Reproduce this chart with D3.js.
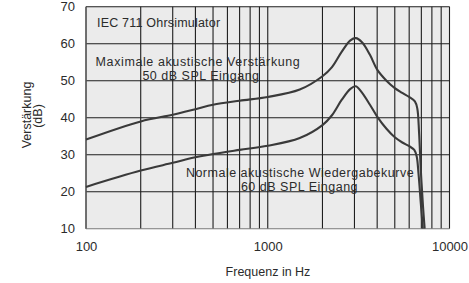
<!DOCTYPE html>
<html><head><meta charset="utf-8">
<script src="https://cdn.jsdelivr.net/npm/d3@7"></script>
<style>
html,body{margin:0;padding:0;background:#fff;}
text{font-family:"Liberation Sans",Arial,Helvetica,sans-serif;fill:#2b2b2b;}
</style></head>
<body><svg id="c" width="469" height="283"></svg>
<script>
// Data
const freqTicks = [100, 1000, 10000];
const gainTicks = [10, 20, 30, 40, 50, 60, 70];
const maxFreq = [100,200,300,400,500,700,1000,1500,2000,2250,2550,2850,3050,3300,3650,4000,4500,5000,5500,6000,6450,6650,6800,6950,7150,7300];
const maxGain = [34.1,39,40.8,42.3,43.5,44.6,45.6,47.6,51.2,53.6,57.8,60.9,61.5,60.4,57,53,50,48,46.7,45.6,44.4,42.5,36,26,16,10];
const normFreq = [100,200,300,400,500,700,1000,1500,2000,2250,2550,2850,3050,3300,3650,4000,4500,5000,5500,6000,6400,6600,6750,6950,7130];
const normGain = [21.3,25.7,27.8,29.3,30.2,31.3,32.4,34.5,38,40.6,44.8,47.8,48.5,46.8,43.5,40.3,37,34.7,33.3,32.3,31.3,29.5,25,17,10];
const labels = {
  top: "IEC 711 Ohrsimulator",
  max1: "Maximale akustische Verstärkung",
  max2: "50 dB SPL Eingang",
  norm1: "Normale akustische Wiedergabekurve",
  norm2: "60 dB SPL Eingang",
  xTitle: "Frequenz in Hz",
  yTitle1: "Verstärkung",
  yTitle2: "(dB)"
};

const svg = d3.select("#c");
const x = d3.scaleLog().domain([100, 10000]).range([86, 449.5]);
const y = d3.scaleLinear().domain([10, 70]).range([228.7, 6.7]);

// plot background
svg.append("rect").attr("x", x(100)).attr("y", y(70))
  .attr("width", x(10000) - x(100)).attr("height", y(10) - y(70))
  .attr("fill", "#ebebeb");

// grid
const minorTicks = [];
for (const d of [100, 1000]) for (let k = 1; k <= 10; k++) minorTicks.push(d * k);
const g = svg.append("g");
g.selectAll("line.v").data([...new Set(minorTicks)]).enter().append("line")
  .attr("x1", d => x(d)).attr("x2", d => x(d))
  .attr("y1", y(70)).attr("y2", y(10))
  .attr("stroke", "#1e1e1e").attr("stroke-width", 1.1);
g.selectAll("line.h").data(gainTicks).enter().append("line")
  .attr("x1", x(100)).attr("x2", x(10000))
  .attr("y1", d => y(d)).attr("y2", d => y(d))
  .attr("stroke", d => d === 10 ? "#777" : "#1e1e1e").attr("stroke-width", 1.1);
g.append("line").attr("x1", x(100)).attr("x2", x(100)).attr("y1", y(70)).attr("y2", y(10))
  .attr("stroke", "#666").attr("stroke-width", 1.2);

// axes tick labels
const yAxis = d3.axisLeft(y).tickValues(gainTicks).tickSize(0).tickPadding(11);
svg.append("g").attr("transform", `translate(${x(100)},0)`).call(yAxis)
  .call(s => s.select(".domain").remove())
  .selectAll("text").style("font-size", "13px").attr("fill", "#2b2b2b")
  .style("font-family", "Liberation Sans, Arial, sans-serif");
const xAxis = d3.axisBottom(x).tickValues(freqTicks).tickFormat(d3.format("d")).tickSize(0).tickPadding(13);
svg.append("g").attr("transform", `translate(0,${y(10)})`).call(xAxis)
  .call(s => s.select(".domain").remove())
  .selectAll("text").style("font-size", "13px").attr("fill", "#2b2b2b")
  .style("font-family", "Liberation Sans, Arial, sans-serif");

// curves
const line = d3.line().x(d => x(d[0])).y(d => y(d[1])).curve(d3.curveCatmullRom.alpha(0.5));
const curves = [d3.zip(maxFreq, maxGain), d3.zip(normFreq, normGain)];
svg.selectAll("path.c").data(curves).enter().append("path")
  .attr("d", line).attr("fill", "none")
  .attr("stroke", "#3a3a3a").attr("stroke-width", 2.1).attr("stroke-linejoin", "round");

// annotations
const ann = svg.append("g").style("font-size", "12.5px");
ann.append("text").attr("x", 97).attr("y", 26.5).style("letter-spacing", "0.2px").text(labels.top);
ann.append("text").attr("x", 198).attr("y", 65.5).attr("text-anchor", "middle").style("letter-spacing", "0.6px").text(labels.max1);
ann.append("text").attr("x", 201).attr("y", 79.5).attr("text-anchor", "middle").style("letter-spacing", "0.5px").text(labels.max2);
ann.append("text").attr("x", 300).attr("y", 176.5).attr("text-anchor", "middle").style("letter-spacing", "0.5px").text(labels.norm1);
ann.append("text").attr("x", 299.5).attr("y", 190.5).attr("text-anchor", "middle").style("letter-spacing", "0.5px").text(labels.norm2);

// axis titles
svg.append("text").attr("x", 268).attr("y", 276).attr("text-anchor", "middle")
  .style("font-size", "12.5px").text(labels.xTitle);
svg.append("text").attr("transform", "translate(30.5,115) rotate(-90)").attr("text-anchor", "middle")
  .style("font-size", "12.5px").text(labels.yTitle1);
svg.append("text").attr("transform", "translate(42,116) rotate(-90)").attr("text-anchor", "middle")
  .style("font-size", "12.5px").text(labels.yTitle2);
</script></body></html>
